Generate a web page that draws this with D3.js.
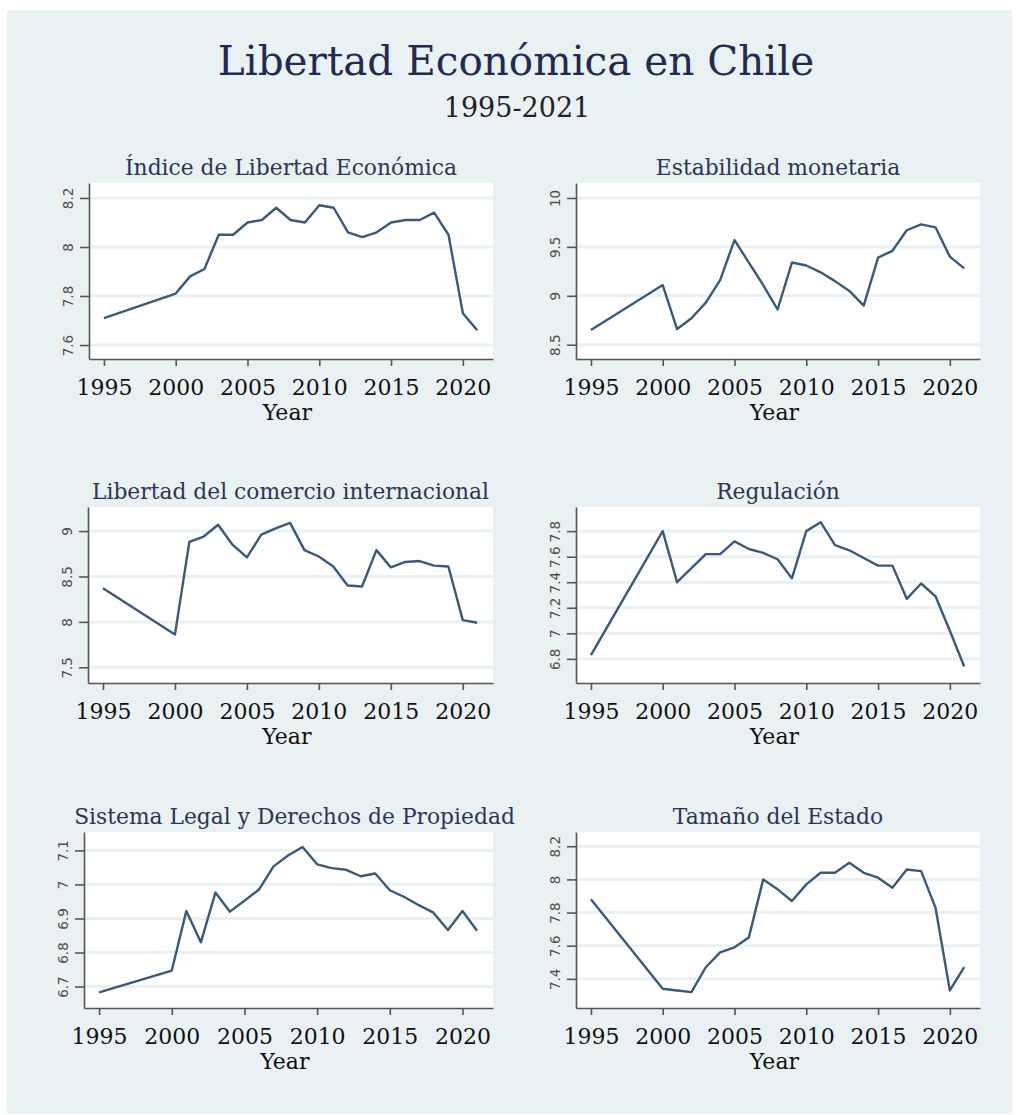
<!DOCTYPE html>
<html>
<head>
<meta charset="utf-8">
<script src="https://cdn.jsdelivr.net/npm/d3@7"></script>
<style>
  body { margin: 0; background: #fff; }
  svg { display: block; }
</style>
</head>
<body>
<svg id="chart"></svg>
<script>
// years present in the data (1996-1999 are missing, line is straight there)
const years = [1995, 2000, 2001, 2002, 2003, 2004, 2005, 2006, 2007, 2008, 2009,
  2010, 2011, 2012, 2013, 2014, 2015, 2016, 2017, 2018, 2019, 2020, 2021];

const indice = [7.71, 7.81, 7.88, 7.91, 8.05, 8.05, 8.10, 8.11, 8.16, 8.11, 8.10,
  8.17, 8.16, 8.06, 8.04, 8.06, 8.10, 8.11, 8.11, 8.14, 8.05, 7.73, 7.66];
const estabilidad = [8.65, 9.11, 8.66, 8.77, 8.93, 9.16, 9.57, 9.34, 9.11, 8.86, 9.34,
  9.31, 9.24, 9.15, 9.05, 8.90, 9.39, 9.46, 9.67, 9.73, 9.70, 9.40, 9.28];
const comercio = [8.37, 7.86, 8.88, 8.94, 9.07, 8.85, 8.71, 8.96, 9.03, 9.09, 8.79,
  8.72, 8.61, 8.40, 8.39, 8.79, 8.60, 8.66, 8.67, 8.62, 8.61, 8.02, 7.99];
const regulacion = [6.83, 7.80, 7.40, 7.51, 7.62, 7.62, 7.72, 7.66, 7.63, 7.58, 7.43,
  7.80, 7.87, 7.69, 7.65, 7.59, 7.53, 7.53, 7.27, 7.39, 7.29, 7.02, 6.74];
const sistemaLegal = [6.683, 6.747, 6.922, 6.830, 6.976, 6.920, 6.952, 6.985, 7.053, 7.085, 7.110,
  7.059, 7.048, 7.043, 7.024, 7.032, 6.983, 6.963, 6.939, 6.917, 6.866, 6.922, 6.864];
const tamano = [7.88, 7.34, 7.33, 7.32, 7.47, 7.56, 7.59, 7.65, 8.00, 7.94, 7.87,
  7.97, 8.04, 8.04, 8.10, 8.04, 8.01, 7.95, 8.06, 8.05, 7.83, 7.33, 7.47];

const titles = ["Índice de Libertad Económica", "Estabilidad monetaria",
  "Libertad del comercio internacional", "Regulación",
  "Sistema Legal y Derechos de Propiedad", "Tamaño del Estado"];
const xTicks = [1995, 2000, 2005, 2010, 2015, 2020];
const yTicks = [
  [7.6, 7.8, 8, 8.2],
  [8.5, 9, 9.5, 10],
  [7.5, 8, 8.5, 9],
  [6.8, 7, 7.2, 7.4, 7.6, 7.8],
  [6.7, 6.8, 6.9, 7, 7.1],
  [7.4, 7.6, 7.8, 8, 8.2]
];
const yDomains = [
  [7.543, 8.261], [8.354, 10.153], [7.327, 9.265],
  [6.611, 7.989], [6.637, 7.154], [7.224, 8.286]
];
const series = [indice, estabilidad, comercio, regulacion, sistemaLegal, tamano];

const W = 1016, H = 1115;
const bg = "#e9f1f2";
const lineColor = "#3a5a7c";
const serif = "'DejaVu Serif', serif";

const svg = d3.select("#chart").attr("width", W).attr("height", H);

svg.append("rect")
  .attr("x", 7).attr("y", 10).attr("width", 1005).attr("height", 1104)
  .attr("fill", bg);

svg.append("text")
  .attr("x", 516).attr("y", 75)
  .attr("text-anchor", "middle")
  .attr("font-family", serif).attr("font-size", 40.5)
  .attr("fill", "#1f2b52")
  .text("Libertad Económica en Chile");

svg.append("text")
  .attr("x", 517).attr("y", 117)
  .attr("text-anchor", "middle")
  .attr("font-family", serif).attr("font-size", 27)
  .attr("fill", "#222")
  .text("1995-2021");

// plot regions
const cols = [[89, 493], [576, 980]];
const rows = [183, 507, 832];
const plotH = 176;
const leftOverride = [89, 576, 88, 576, 84, 576];

series.forEach((vals, i) => {
  const col = cols[i % 2];
  const top = rows[Math.floor(i / 2)];
  const x0 = leftOverride[i], x1 = col[1];
  const bottom = top + plotH;

  const x = d3.scaleLinear().domain([1993.96, 2022.1]).range([x0, x1]);
  const y = d3.scaleLinear().domain(yDomains[i]).range([bottom, top]);

  const g = svg.append("g");

  g.append("rect")
    .attr("x", x0).attr("y", top)
    .attr("width", x1 - x0).attr("height", plotH)
    .attr("fill", "#fff");

  // grid lines
  g.append("g")
    .selectAll("line")
    .data(yTicks[i])
    .join("line")
    .attr("x1", x0).attr("x2", x1)
    .attr("y1", d => y(d)).attr("y2", d => y(d))
    .attr("stroke", bg).attr("stroke-width", 3);

  // y axis
  g.append("g")
    .attr("transform", `translate(${x0},0)`)
    .call(d3.axisLeft(y).tickValues(yTicks[i]).tickSize(9).tickSizeOuter(0).tickFormat(d3.format("~g")))
    .call(a => a.select(".domain").attr("stroke", "#555").attr("stroke-width", 1.6))
    .call(a => a.selectAll(".tick line").attr("stroke", "#555").attr("stroke-width", 1.6))
    .call(a => a.selectAll(".tick text")
      .attr("x", null).attr("dy", null)
      .attr("transform", "translate(-21,0) rotate(-90)")
      .attr("text-anchor", "middle")
      .attr("dominant-baseline", "central")
      .attr("font-family", "'DejaVu Sans', sans-serif")
      .attr("font-size", 13.5)
      .attr("fill", "#554c48"));

  // x axis
  g.append("g")
    .attr("transform", `translate(0,${bottom})`)
    .call(d3.axisBottom(x).tickValues(xTicks).tickSize(7).tickSizeOuter(0).tickFormat(d3.format("d")))
    .call(a => a.select(".domain").attr("stroke", "#555").attr("stroke-width", 1.6))
    .call(a => a.selectAll(".tick line").attr("stroke", "#555").attr("stroke-width", 1.6))
    .call(a => a.selectAll(".tick text")
      .attr("y", 36).attr("dy", null)
      .attr("font-family", serif)
      .attr("font-size", 22)
      .attr("fill", "#111"));

  g.append("text")
    .attr("x", (x(1995) + x(2020)) / 2 + 4).attr("y", bottom + 61)
    .attr("text-anchor", "middle")
    .attr("font-family", serif).attr("font-size", 22)
    .attr("fill", "#111")
    .text("Year");

  g.append("text")
    .attr("x", (x0 + x1) / 2 + (i === 4 ? 6 : 0)).attr("y", top - 8)
    .attr("text-anchor", "middle")
    .attr("font-family", serif).attr("font-size", 21.8)
    .attr("fill", "#2b3558")
    .text(titles[i]);

  const line = d3.line()
    .x((d, k) => x(years[k]))
    .y(d => y(d));

  g.append("path")
    .datum(vals)
    .attr("fill", "none")
    .attr("stroke", lineColor)
    .attr("stroke-width", 2.4)
    .attr("stroke-linejoin", "round")
    .attr("d", line);
});
</script>
</body>
</html>
